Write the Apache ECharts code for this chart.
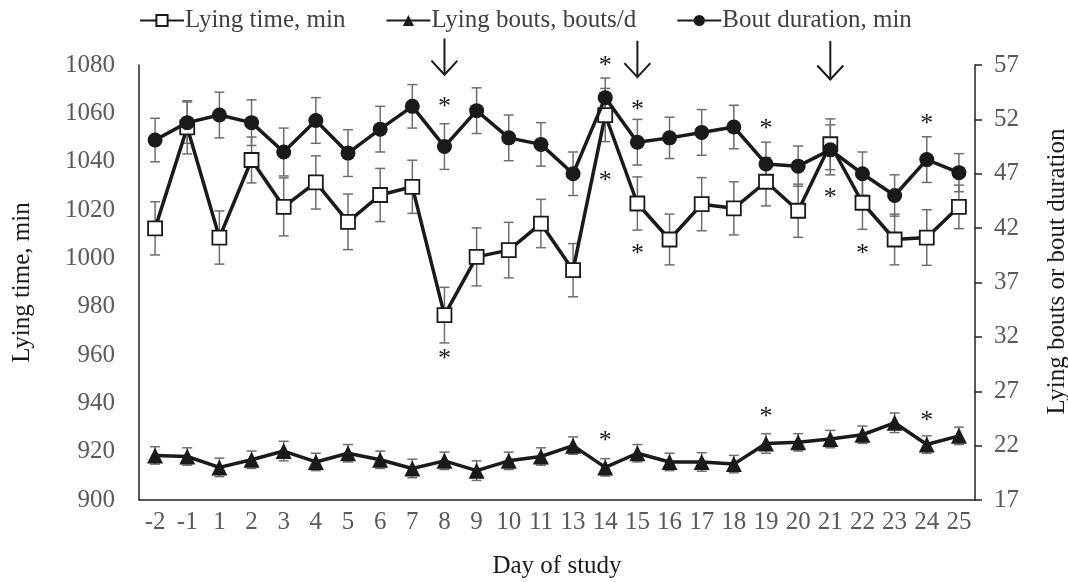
<!DOCTYPE html>
<html>
<head>
<meta charset="utf-8">
<script src="https://cdn.jsdelivr.net/npm/echarts@6/dist/echarts.min.js"></script>
<style>
  html, body { margin: 0; padding: 0; background: #fff; }
  #chart { width: 1068px; height: 582px; }
</style>
</head>
<body>
<div id="chart"></div>
<script>
// days on the x axis (no day 12)
const days = ['-2', '-1', '1', '2', '3', '4', '5', '6', '7', '8', '9', '10', '11',
  '13', '14', '15', '16', '17', '18', '19', '20', '21', '22', '23', '24', '25']

// lying time, min (left axis) and its SE
const lyingTime = [1012.4, 1054.2, 1008.6, 1040.7, 1021.3, 1031.4, 1015.1, 1026.2, 1029.6, 976.5,
  1000.6, 1003.4, 1014.4, 995.1, 1059.3, 1022.7, 1007.8, 1022.4, 1020.7, 1031.7,
  1019.7, 1047.2, 1023.0, 1007.8, 1008.6, 1021.3]
const lyingTimeErr = [11, 11, 11, 9.5, 12, 11, 11.5, 11, 11, 11.5, 12, 11.5, 10,
  11, 11, 11, 10.5, 11, 11, 10, 11, 10.5, 11, 10.5, 11.5, 9]

// lying bouts, bouts/d (right axis)
const lyingBouts = [21.1, 21.0, 20.0, 20.7, 21.5, 20.5, 21.3, 20.7, 19.9, 20.6,
  19.7, 20.6, 21.0, 22.0, 20.0, 21.3, 20.5, 20.5, 20.3, 22.2,
  22.3, 22.6, 23.0, 24.1, 22.1, 22.9]
const lyingBoutsErr = [0.8, 0.8, 0.85, 0.8, 0.9, 0.8, 0.8, 0.8, 0.85, 0.8, 0.9, 0.8, 0.8,
  0.8, 0.8, 0.8, 0.8, 0.85, 0.8, 0.9, 0.8, 0.8, 0.8, 0.9, 0.8, 0.8]

// bout duration, min (right axis)
const boutDuration = [50.1, 51.7, 52.4, 51.7, 49.0, 51.9, 48.9, 51.1, 53.2, 49.5,
  52.8, 50.3, 49.7, 47.0, 54.0, 49.9, 50.3, 50.8, 51.3, 47.9,
  47.7, 49.2, 47.0, 45.0, 48.3, 47.1]
const boutDurationErr = [2.0, 1.9, 2.1, 2.1, 2.2, 2.1, 2.15, 2.1, 2.0, 2.1, 2.1, 2.1, 2.0,
  2.0, 1.8, 2.1, 1.9, 2.1, 2.0, 2.0, 1.85, 2.3, 2.0, 1.9, 2.1, 1.75]

// significance stars: [day, position on left axis]
const stars = [['8', 1064.3], ['8', 960.0], ['14', 1081.2], ['14', 1033.6], ['14', 926.0],
  ['15', 1063.0], ['15', 1003.4], ['19', 1055.2], ['19', 935.9], ['21', 1026.6],
  ['22', 1003.4], ['24', 1057.2], ['24', 934.2]]

// event arrows: [day, top, tip] on left axis
const arrows = [['8', 1091, 1076], ['15', 1090, 1075], ['21', 1090, 1074]]

const serif = 'Liberation Serif'
const ink = '#1a1a1a'
const grey = '#595959'

function errRows(vals, errs) {
  return vals.map((v, i) => [i, v - errs[i], v + errs[i]])
}

function errorBarItem(params, api) {
  const x = api.value(0)
  const lo = api.coord([x, api.value(1)])
  const hi = api.coord([x, api.value(2)])
  const w = 5
  const style = { stroke: '#6e6e6e', lineWidth: 1.5 }
  return {
    type: 'group',
    children: [
      { type: 'line', shape: { x1: lo[0], y1: lo[1], x2: hi[0], y2: hi[1] }, style },
      { type: 'line', shape: { x1: lo[0] - w, y1: lo[1], x2: lo[0] + w, y2: lo[1] }, style },
      { type: 'line', shape: { x1: hi[0] - w, y1: hi[1], x2: hi[0] + w, y2: hi[1] }, style },
    ],
  }
}

function starItem(params, api) {
  const p = api.coord([api.value(0), api.value(1)])
  return {
    type: 'text',
    x: p[0],
    y: p[1] + 4,
    style: { text: '*', fontFamily: serif, fontSize: 26, fill: ink, align: 'center', verticalAlign: 'middle' },
  }
}

function arrowItem(params, api) {
  const top = api.coord([api.value(0), api.value(1)])
  const tip = api.coord([api.value(0), api.value(2)])
  const style = { stroke: ink, lineWidth: 2, fill: 'none' }
  return {
    type: 'group',
    children: [
      { type: 'line', shape: { x1: top[0], y1: top[1], x2: tip[0], y2: tip[1] }, style },
      { type: 'polyline', shape: { points: [[tip[0] - 13, tip[1] - 14], [tip[0], tip[1]], [tip[0] + 13, tip[1] - 14]] }, style },
    ],
  }
}

const chart = echarts.init(document.getElementById('chart'))

chart.setOption({
  animation: false,
  backgroundColor: '#fff',
  grid: { left: 139, right: 93, top: 65, bottom: 82, outerBoundsMode: 'none', containLabel: false },
  legend: {
    data: ['Lying time, min', 'Lying bouts, bouts/d', 'Bout duration, min'],
    top: 3,
    left: 134,
    itemGap: 40,
    itemWidth: 44,
    itemHeight: 14,
    textStyle: { fontFamily: serif, fontSize: 25, color: '#404040', padding: [0, 0, 0, -4] },
  },
  xAxis: {
    type: 'category',
    data: days,
    name: 'Day of study',
    nameLocation: 'middle',
    nameGap: 54,
    nameTextStyle: { fontFamily: serif, fontSize: 25, color: ink },
    axisLine: { lineStyle: { color: '#222', width: 1.5 } },
    axisTick: { alignWithLabel: false, length: 7, lineStyle: { color: '#222', width: 1.5 } },
    axisLabel: { interval: 0, margin: 10, fontFamily: serif, fontSize: 25, color: grey },
  },
  yAxis: [
    {
      type: 'value',
      min: 900,
      max: 1080,
      interval: 20,
      name: 'Lying time, min',
      nameLocation: 'middle',
      nameGap: 104,
      nameRotate: 90,
      nameTextStyle: { fontFamily: serif, fontSize: 25, color: ink },
      axisLine: { show: true, lineStyle: { color: '#222', width: 1.5 } },
      axisTick: { show: false },
      axisLabel: { margin: 24, fontFamily: serif, fontSize: 25, color: grey, formatter: (v) => String(v) },
      splitLine: { show: false },
    },
    {
      type: 'value',
      min: 17,
      max: 57,
      interval: 5,
      position: 'right',
      name: 'Lying bouts or bout duration',
      nameLocation: 'middle',
      nameGap: 70,
      nameRotate: 90,
      nameTextStyle: { fontFamily: serif, fontSize: 25, color: ink, padding: [0, 0, 0, 22] },
      axisLine: { show: true, lineStyle: { color: '#222', width: 1.5 } },
      axisTick: { show: true, inside: false, length: 7, lineStyle: { color: '#222', width: 1.5 } },
      axisLabel: { margin: 19, fontFamily: serif, fontSize: 25, color: grey },
      splitLine: { show: false },
    },
  ],
  series: [
    { type: 'custom', yAxisIndex: 0, renderItem: errorBarItem, data: errRows(lyingTime, lyingTimeErr), z: 1, silent: true },
    { type: 'custom', yAxisIndex: 1, renderItem: errorBarItem, data: errRows(lyingBouts, lyingBoutsErr), z: 1, silent: true },
    { type: 'custom', yAxisIndex: 1, renderItem: errorBarItem, data: errRows(boutDuration, boutDurationErr), z: 1, silent: true },
    {
      name: 'Lying time, min',
      type: 'line',
      yAxisIndex: 0,
      data: lyingTime,
      symbol: 'rect',
      symbolSize: 14,
      showAllSymbol: true,
      lineStyle: { color: ink, width: 3.5 },
      itemStyle: { color: '#fff', borderColor: ink, borderWidth: 1.8 },
      z: 3,
    },
    {
      name: 'Lying bouts, bouts/d',
      type: 'line',
      yAxisIndex: 1,
      data: lyingBouts,
      symbol: 'triangle',
      symbolSize: 16,
      showAllSymbol: true,
      lineStyle: { color: ink, width: 3.5 },
      itemStyle: { color: ink },
      z: 3,
    },
    {
      name: 'Bout duration, min',
      type: 'line',
      yAxisIndex: 1,
      data: boutDuration,
      symbol: 'circle',
      symbolSize: 15,
      showAllSymbol: true,
      lineStyle: { color: ink, width: 3.5 },
      itemStyle: { color: ink },
      z: 4,
    },
    { type: 'custom', yAxisIndex: 0, renderItem: starItem, data: stars, z: 5, silent: true },
    { type: 'custom', yAxisIndex: 0, renderItem: arrowItem, data: arrows, z: 5, silent: true, clip: false },
  ],
})
</script>
</body>
</html>
